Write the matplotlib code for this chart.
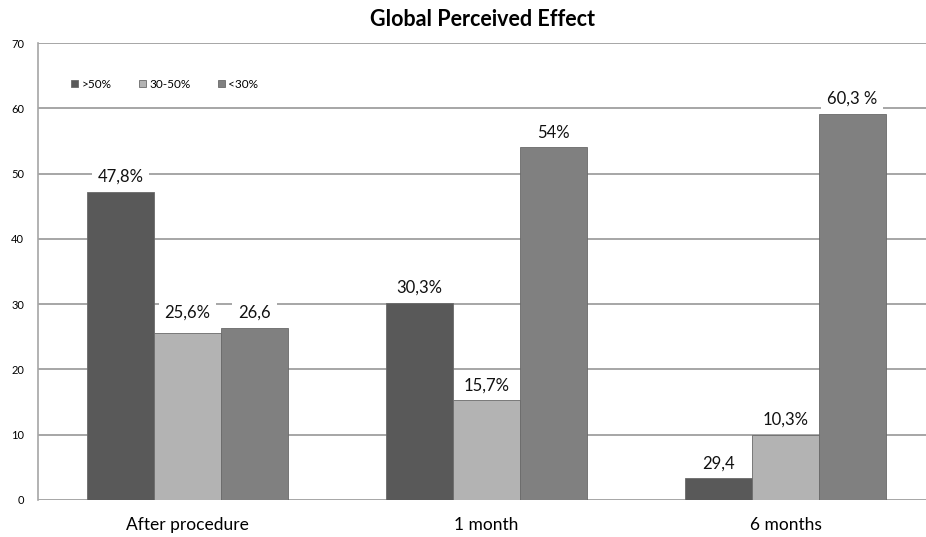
import numpy as np
import matplotlib.pyplot as plt

plt.rcParams['font.family'] = ['Lato', 'DejaVu Sans']

# dane
categories = ['After procedure', '1 month', '6 months']
series_names = ['>50%', '30-50%', '<30%']
values = [
    [47.2, 30.2, 3.3],   # >50%
    [25.6, 15.3, 10.0],  # 30-50%
    [26.4, 54.0, 59.2],  # <30%
]
labels = [
    ['47,8%', '30,3%', '29,4'],
    ['25,6%', '15,7%', '10,3%'],
    ['26,6', '54%', '60,3 %'],
]
colors = ['#595959', '#b3b3b3', '#808080']

fig = plt.figure(figsize=(9.26, 5.37), dpi=100)
ax = fig.add_axes([38 / 926, 37 / 537, 1 - 38 / 926, 457 / 537])

x = np.arange(len(categories))
w = 0.224

for i, name in enumerate(series_names):
    pos = x + (i - 1) * w
    ax.bar(pos, values[i], w, color=colors[i], edgecolor='#6a6a6a',
           linewidth=0.6, label=name, zorder=3)
    for j in range(len(categories)):
        dy = 5
        if i == 1 and j == 0:
            dy = 9  # etykieta 25,6% wyzej
        ax.annotate(labels[i][j], (pos[j], values[i][j]), xytext=(0, dy),
                    textcoords='offset points', ha='center', va='bottom',
                    fontsize=12, color='#111111', zorder=4,
                    bbox=dict(boxstyle='square,pad=0.35', fc='white', ec='none'))

ax.set_ylim(0, 70)
ax.set_xlim(-0.5, 2.47)
ax.set_yticks(range(0, 71, 10))
ax.set_xticks(x)
ax.set_xticklabels(categories, fontsize=12.5)
ax.tick_params(axis='y', labelsize=8, length=0, pad=10)
ax.tick_params(axis='x', length=0, pad=12)
ax.grid(axis='y', color='#a6a6a6', linewidth=1.4, zorder=0)

for s in ['top', 'right', 'bottom']:
    ax.spines[s].set_visible(False)
ax.spines['left'].set_color('#a6a6a6')
ax.spines['left'].set_linewidth(1.2)

ax.set_title('Global Perceived Effect', fontsize=15.5, fontweight='bold', pad=12)

ax.legend(loc='upper left', bbox_to_anchor=(0.025, 0.945), ncol=3, frameon=False,
          fontsize=8.5, handlelength=0.6, handleheight=0.6, handletextpad=0.3,
          columnspacing=2.3)

plt.savefig('out.png', dpi=100)
